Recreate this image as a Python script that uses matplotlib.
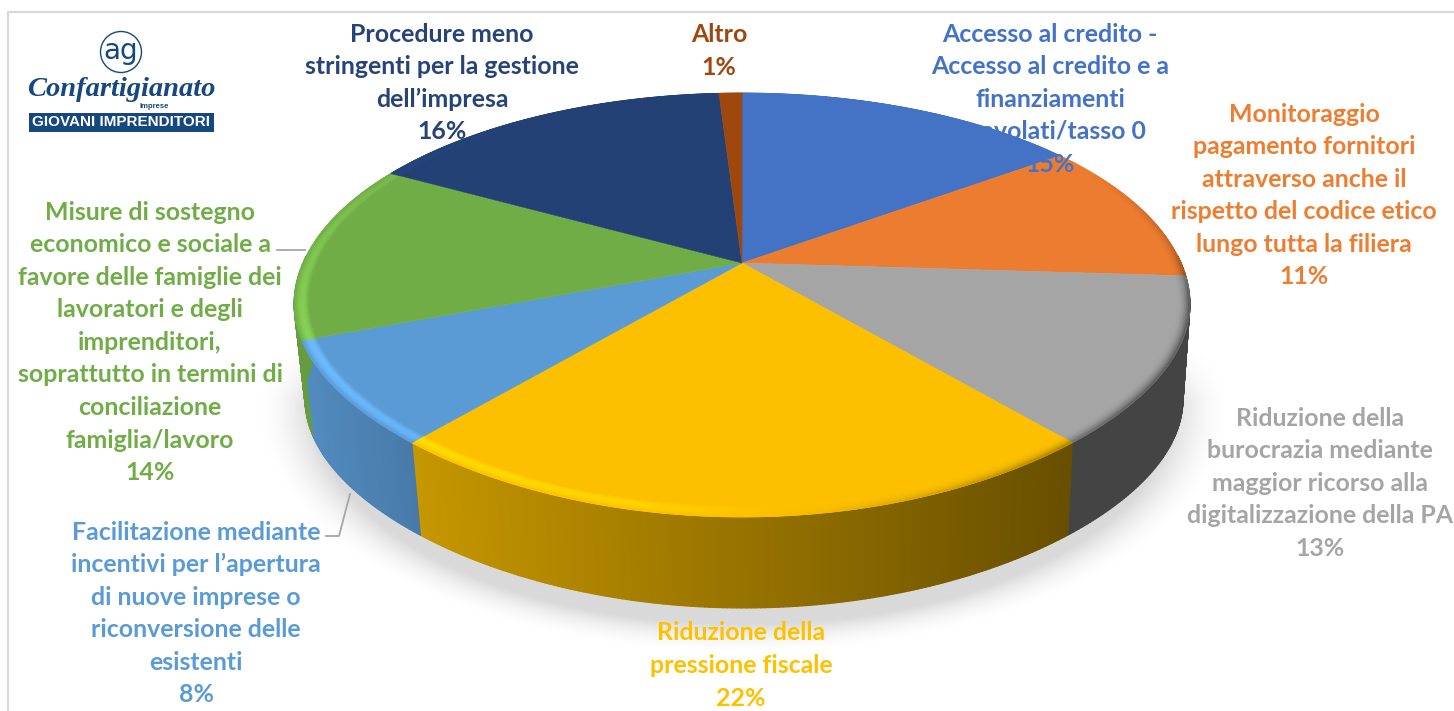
import numpy as np
import matplotlib
matplotlib.use("Agg")
import matplotlib.pyplot as plt
from matplotlib.collections import PolyCollection
from matplotlib.colors import to_rgb
from matplotlib.patches import Circle, Polygon, Rectangle

categories = [
    ["Accesso al credito -", "Accesso al credito e a", "finanziamenti", "agevolati/tasso 0"],
    ["Monitoraggio", "pagamento fornitori", "attraverso anche il",
     "rispetto del codice etico", "lungo tutta la filiera"],
    ["Riduzione della", "burocrazia mediante", "maggior ricorso alla",
     "digitalizzazione della PA"],
    ["Riduzione della", "pressione fiscale"],
    ["Facilitazione mediante", "incentivi per l\u2019apertura", "di nuove imprese o",
     "riconversione delle", "esistenti"],
    ["Misure di sostegno", "economico e sociale a", "favore delle famiglie dei",
     "lavoratori e degli", "imprenditori,", "soprattutto in termini di",
     "conciliazione", "famiglia/lavoro"],
    ["Procedure meno", "stringenti per la gestione", "dell\u2019impresa"],
    ["Altro"],
]
values = [15, 11, 13, 22, 8, 14, 16, 1]
colors = ["#4472c4", "#ec7c30", "#a5a5a5", "#fcc000",
          "#5b9bd5", "#70ad47", "#234175", "#9e480e"]
label_colors = ["#4472c4", "#ed7d31", "#a5a5a5", "#ffc000",
                "#5b9bd5", "#70ad47", "#264478", "#9e480e"]

# centre x and first line y of each label block
label_x = [1050, 1304, 1320, 741, 196, 150, 442, 719]
label_y = [34, 114, 418, 633, 532, 212, 34, 35]
LINE_H = 32.6

# projection of the pie's unit circle on the page
CX, CY = 742.0, 263.0
AX_R, BY_R, PERSP = 439.0, 203.7, 0.198
DEPTH_Y, BOTTOM_SCALE = 96.0, 0.98
FRONT_FLAT = 40.0

FONT = "Lato"


def project(theta, r=1.0, bottom=False):
    # theta in degrees, clockwise from the top
    t = np.radians(theta)
    x = r * np.sin(t)
    y = r * np.cos(t)
    w = 1 + PERSP * y
    px = AX_R * x / w
    py = -BY_R * y / w
    # the front corners sit a little higher than a plain projection
    front = np.clip(-y, 0, 1)
    py = py - FRONT_FLAT * front ** 2 * (1 - front)
    if bottom:
        return CX + 2 + px * BOTTOM_SCALE, CY + DEPTH_Y + py * BOTTOM_SCALE
    return CX + px, CY + py


def shade_side(px):
    return np.interp(px, [300, 420, 1075, 1190], [0.90, 0.78, 0.41, 0.41])


def rim_light(theta):
    return np.interp(theta % 360,
                     [0, 60, 85, 100, 130, 170, 190, 250, 290, 325, 360],
                     [1.0, 1.0, 0.8, 0.5, 0.55, 0.95, 1.1, 1.22, 1.1, 1.0, 1.0])


def scaled(col, k):
    return tuple(np.clip(np.array(to_rgb(col)) * k, 0, 1))


fig = plt.figure(figsize=(14.54, 7.11), dpi=100)
ax = fig.add_axes([0, 0, 1, 1])
ax.set_xlim(0, 1454)
ax.set_ylim(711, 0)
ax.axis("off")

# soft shadow under the pie
xx, yy = np.meshgrid(np.arange(0, 1454, 2), np.arange(0, 711, 2))
d = np.sqrt(((xx - 742) / 452.0) ** 2 + ((yy - 408) / 228.0) ** 2)
alpha = np.clip((1.09 - d) / 0.14, 0, 1) ** 2 * 0.15 * np.clip((yy - 340) / 60.0, 0, 1)
shadow = np.zeros(xx.shape + (4,))
shadow[..., 3] = alpha
ax.imshow(shadow, extent=(0, 1454, 711, 0), aspect="auto", zorder=1, interpolation="bilinear")
ax.set_xlim(0, 1454)
ax.set_ylim(711, 0)

# page frame
ax.plot([8, 8, 1454], [711, 12, 12], color="#d9d9d9", lw=1.6, zorder=2)

edges = np.concatenate([[0], np.cumsum(values)]) / np.sum(values) * 360.0

# side wall, front half only
quads, quad_cols = [], []
for i, col in enumerate(colors):
    lo, hi = max(edges[i], 88), min(edges[i + 1], 272)
    if hi <= lo:
        continue
    steps = np.linspace(lo, hi, int((hi - lo) * 2) + 2)
    for a, b in zip(steps[:-1], steps[1:]):
        x0, y0 = project(a)
        x1, y1 = project(b)
        x2, y2 = project(b, bottom=True)
        x3, y3 = project(a, bottom=True)
        quads.append([(x0, y0), (x1, y1), (x2, y2), (x3, y3)])
        quad_cols.append(scaled(col, shade_side((x0 + x1) / 2)))
ax.add_collection(PolyCollection(quads, facecolors=quad_cols, edgecolors=quad_cols,
                                 linewidths=0.9, zorder=3))

# top face
for i, col in enumerate(colors):
    th = np.linspace(edges[i], edges[i + 1], max(int(values[i] * 8), 6))
    px, py = project(th)
    pts = np.column_stack([np.r_[CX, px], np.r_[CY, py]])
    ax.add_patch(Polygon(pts, closed=True, facecolor=col, edgecolor=col, lw=0.4, zorder=4))

# bevelled rim on the top face
quads, quad_cols = [], []
bands = np.linspace(0.97, 1.0, 9)
for i, col in enumerate(colors):
    steps = np.linspace(edges[i], edges[i + 1], int(values[i] * 7) + 2)
    for a, b in zip(steps[:-1], steps[1:]):
        light = rim_light((a + b) / 2)
        for j in range(len(bands) - 1):
            t = (j + 0.5) / (len(bands) - 1)
            if light < 1:
                mix = t ** 2.5
            else:
                mix = np.sin(np.pi * t ** 0.8)
            x0, y0 = project(a, bands[j])
            x1, y1 = project(b, bands[j])
            x2, y2 = project(b, bands[j + 1])
            x3, y3 = project(a, bands[j + 1])
            quads.append([(x0, y0), (x1, y1), (x2, y2), (x3, y3)])
            quad_cols.append(scaled(col, 1 + (light - 1) * mix))
ax.add_collection(PolyCollection(quads, facecolors=quad_cols, edgecolors=quad_cols,
                                 linewidths=0.5, zorder=5))

# leader lines
ax.plot([277, 305], [250, 250], color="#a6a6a6", lw=1.3, zorder=6)
ax.plot([326, 339, 350], [536, 536, 494], color="#a6a6a6", lw=1.3, zorder=6)

# labels, one text per line
for i, lines in enumerate(categories):
    rows = lines + ["%d%%" % values[i]]
    for j, row in enumerate(rows):
        ax.text(label_x[i], label_y[i] + j * LINE_H, row, ha="center", va="center",
                color=label_colors[i], fontsize=17.9, fontweight="bold",
                family=FONT, zorder=7)

# logo
BLUE = "#16487f"
ax.add_patch(Circle((121, 52), 20.5, facecolor="white", edgecolor=BLUE, lw=1.0, zorder=8))
ax.text(121, 51, "ag", ha="center", va="center", color=BLUE, fontsize=20,
        family="DejaVu Sans", zorder=9)
ax.text(121.5, 89, "Confartigianato", ha="center", va="center", color=BLUE, fontsize=20.5,
        fontweight="bold", fontstyle="italic", family="Liberation Serif", zorder=9)
ax.text(154, 106.5, "Imprese", ha="center", va="center", color=BLUE, fontsize=5.5,
        fontweight="bold", family="Liberation Sans", zorder=9)
ax.add_patch(Rectangle((29, 113), 185, 19, facecolor=BLUE, edgecolor="none", zorder=8))
ax.text(121.5, 122.5, "GIOVANI IMPRENDITORI", ha="center", va="center", color="white",
        fontsize=11, fontweight="bold", family="Liberation Sans", zorder=9)

fig.savefig("out.png", dpi=100)
